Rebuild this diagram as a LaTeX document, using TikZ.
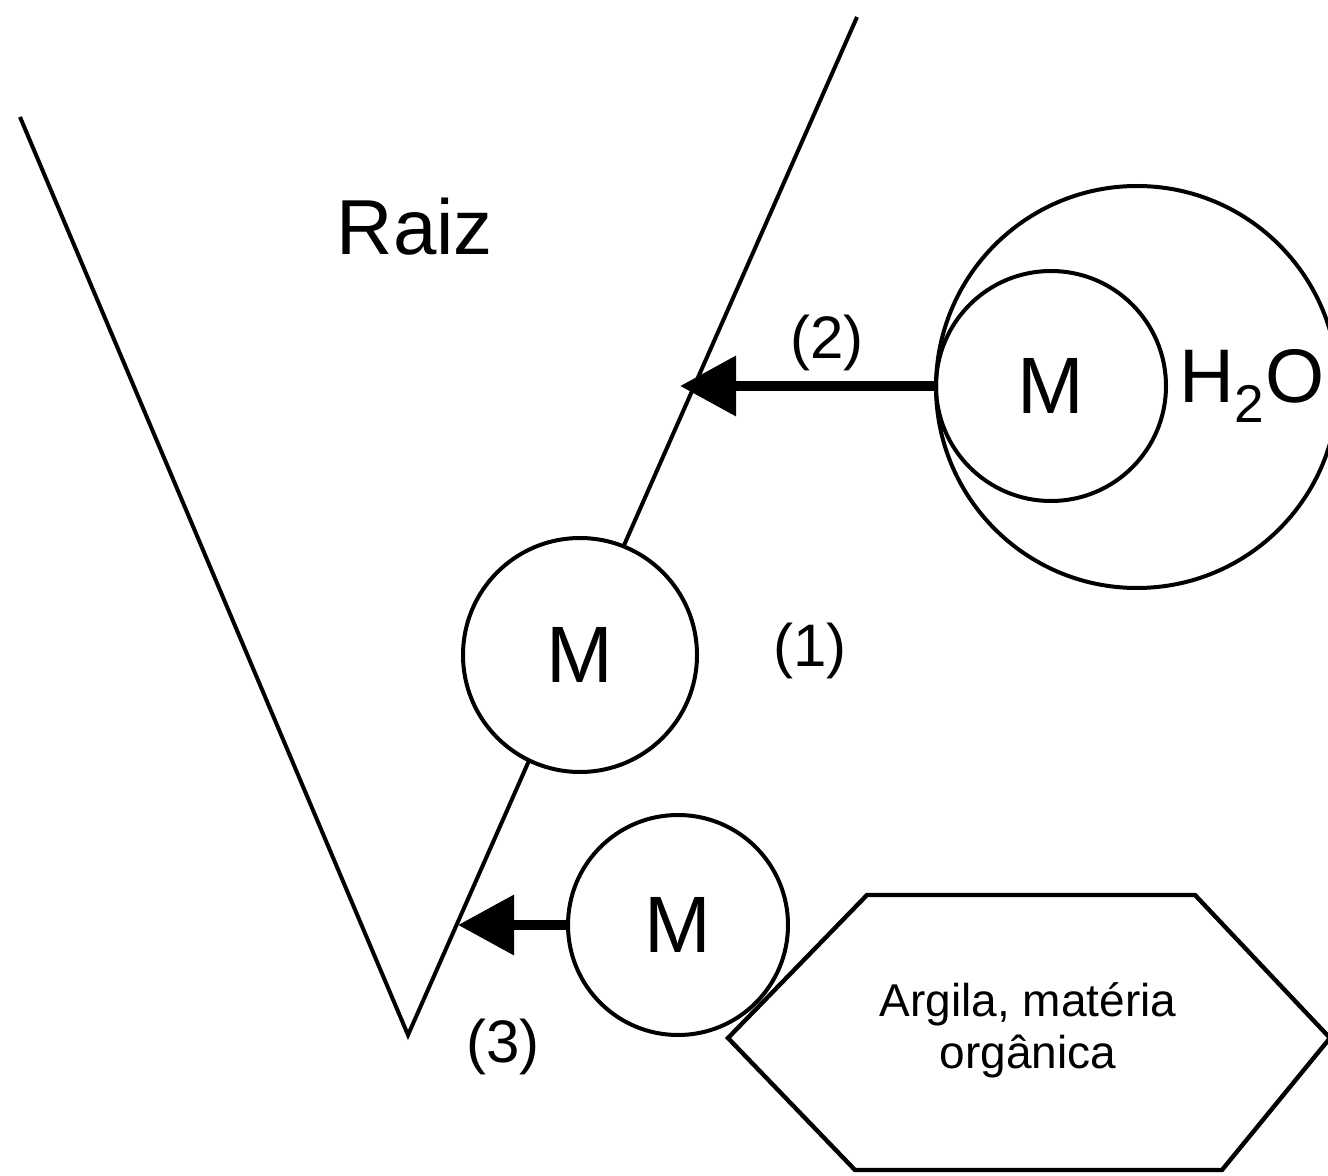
\documentclass[tikz,border=0pt]{standalone}
\usepackage{fontspec}
\setmainfont{Liberation Sans}
\usetikzlibrary{arrows.meta}

\begin{document}
\begin{tikzpicture}[x=0.5pt, y=-0.5pt, >=Latex,
    ion/.style={draw, circle, line width=2pt, inner sep=0pt, font=\fontsize{40}{48}\selectfont},
    num/.style={font=\fontsize{30}{36}\selectfont},
    flow/.style={-{Triangle[length=28pt, width=29pt]}, line width=5pt}]
    \useasboundingbox (0,0) rectangle (1328,1176);
    % root wall
    \coordinate (rl) at (20,117);
    \coordinate (rv) at (408,1035);
    \coordinate (rr) at (857,17);
    \draw[line width=2pt, line join=miter] (rl) -- (rv) -- (rr);
    \node[font=\fontsize{39}{47}\selectfont] (raiz) at (415,227) {Raiz};
    % (1) at the root surface
    \node[ion, fill=white, minimum size=117pt] (m1) at (580,655) {M};
    \node[num] (n1) at (810,651) {(1)};
    % (2) from the soil water
    \node[ion, minimum size=201pt] (water) at (1137,387) {};
    \node[ion, minimum size=115pt] (mw) at (1051,386) {M};
    \node[font=\fontsize{38}{46}\selectfont] (h2o) at (1252,386) {H\textsubscript{2}O};
    \coordinate (t2) at (680,386);
    \draw[flow] (mw.west) -- (t2);
    \node[num] (n2) at (827,343) {(2)};
    % (3) from the exchange sites
    \node[ion, minimum size=110pt] (m3) at (678,925) {M};
    \coordinate (t3) at (458,925);
    \draw[flow] (m3.west) -- (t3);
    \node[num] (n3) at (503,1047) {(3)};
    \draw[line width=2.2pt, line join=miter] (867,895) -- (1195,895) -- (1330,1038)
        -- (1222,1170) -- (855,1170) -- (728,1038) -- cycle;
    \node[align=center, font=\fontsize{23}{26}\selectfont] (clay) at (1028,1030) {Argila, matéria\\orgânica};
\end{tikzpicture}
\end{document}
